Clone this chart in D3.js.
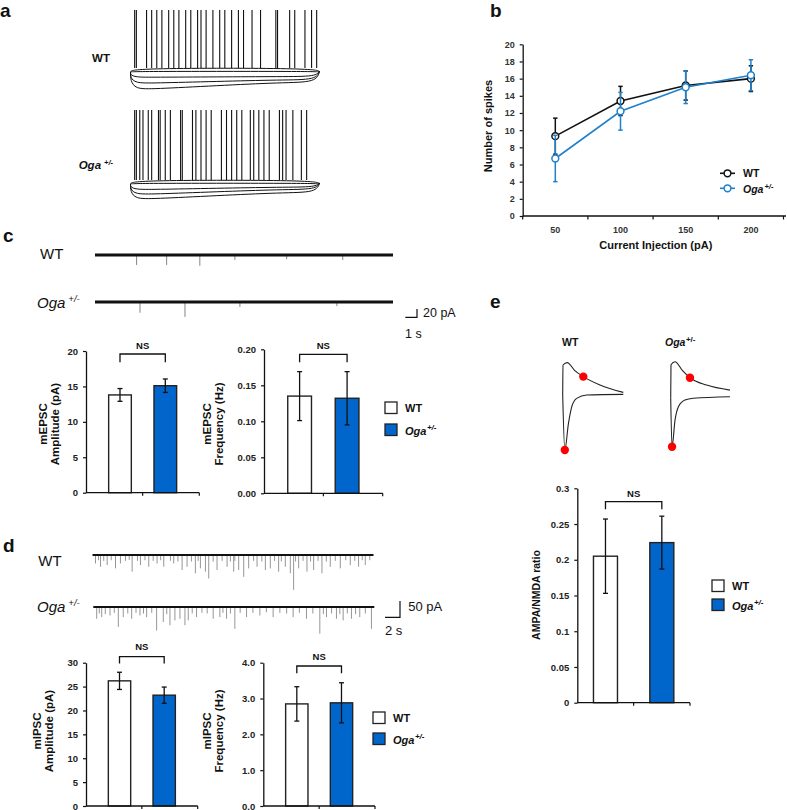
<!DOCTYPE html>
<html><head><meta charset="utf-8">
<script src="https://cdn.jsdelivr.net/npm/d3@7"></script>
<style>
body{margin:0;background:#fff}
svg{display:block}
text{font-family:"Liberation Sans",Arial,Helvetica,sans-serif}
</style>
</head><body>
<svg id="fig" width="787" height="810"></svg>
<script>
// ---------------- DATA ----------------
const groups = ["WT", "Oga"];

// panel a: current-clamp sweeps (mV)
const restMV = -65;
const depolMV_WT = -59, depolMV_Oga = -60;
const spikePeakMV = 30;
const hyperSagWT = [-73, -82, -91];
const hyperSteadyWT = [-72, -77, -81];
const hyperSagOga = [-72, -78, -84];
const hyperSteadyOga = [-69, -72, -76];
const spikeTimesWT = [22, 31, 85, 112, 139, 166, 202, 229, 256, 292, 319, 355, 373, 400, 436, 472, 499, 535, 571, 598, 643, 688, 769, 778, 842, 869, 923, 958, 985];
const spikeTimesOga = [22, 31, 49, 66, 94, 112, 148, 157, 184, 211, 265, 274, 328, 346, 373, 400, 427, 481, 508, 535, 562, 589, 634, 652, 679, 706, 734, 788, 805, 823, 859, 904, 932];

// panel b: spikes vs current injection
const currents = [50, 100, 150, 200];
const spikesWT = [9.3, 13.4, 15.2, 16.0];
const spikesWTErr = [2.1, 1.7, 1.7, 1.5];
const spikesOga = [6.7, 12.2, 15.0, 16.4];
const spikesOgaErr = [2.7, 2.2, 1.9, 1.8];
const spikesTicks = [0, 2, 4, 6, 8, 10, 12, 14, 16, 18, 20];

// panel c: mEPSC traces [time s, amplitude pA]
const mepscEventsWT = [[3.56, 24], [6.13, 24], [8.97, 26], [11.97, 12], [16.4, 10], [21.2, 12]];
const mepscEventsOga = [[3.85, 26], [7.7, 36], [12.4, 12], [20.7, 10]];
// panel c bars
const mepscAmp = [13.8, 15.1];
const mepscAmpErr = [0.9, 0.95];
const mepscAmpTicks = [0, 5, 10, 15, 20];
const mepscFreq = [0.135, 0.132];
const mepscFreqErr = [0.034, 0.037];
const mepscFreqTicks = [0, 0.05, 0.10, 0.15, 0.20];

// panel d: mIPSC traces [time s, amplitude pA]
const mipscEventsWT = [[0.4, 26], [0.8, 16], [1.07, 36], [1.5, 18], [1.96, 31], [2.5, 16], [3.07, 41], [3.73, 26], [4.4, 18], [4.9, 15], [5.29, 51], [6.0, 18], [6.4, 31], [7.0, 16], [7.51, 36], [8.1, 18], [8.62, 26], [9.1, 16], [9.51, 36], [10.4, 18], [10.84, 26], [11.4, 20], [11.96, 46], [12.62, 36], [13.2, 20], [13.73, 56], [14.1, 18], [14.4, 41], [15.07, 51], [15.51, 72], [16.1, 20], [16.62, 46], [17.3, 18], [17.96, 36], [18.4, 20], [18.84, 51], [19.0, 18], [19.51, 46], [20.18, 67], [20.84, 41], [21.5, 18], [21.96, 36], [22.6, 20], [23.07, 46], [23.73, 41], [24.3, 18], [24.84, 51], [25.2, 20], [25.73, 36], [26.4, 56], [26.84, 107], [27.1, 20], [27.51, 41], [28.1, 18], [28.62, 51], [29.1, 20], [29.51, 46], [30.1, 18], [30.62, 56], [31.2, 20], [31.73, 36], [32.4, 18], [33.07, 41], [33.8, 16], [34.4, 31], [35.0, 18], [35.51, 36], [36.0, 16], [36.4, 31], [37.0, 16]];
const mipscEventsOga = [[0.45, 36], [0.8, 20], [1.12, 31], [1.6, 22], [2.23, 26], [2.8, 18], [3.34, 61], [4.0, 31], [4.6, 20], [5.12, 36], [5.7, 18], [6.23, 26], [6.7, 20], [7.12, 31], [7.8, 18], [8.45, 72], [9.34, 46], [9.8, 22], [10.23, 56], [10.89, 41], [11.56, 36], [12.23, 56], [12.67, 41], [13.2, 20], [13.78, 31], [14.5, 18], [15.2, 20], [16.0, 36], [16.89, 31], [17.3, 18], [17.78, 36], [18.3, 20], [18.89, 67], [19.6, 18], [20.45, 31], [21.3, 18], [22.23, 26], [23.1, 16], [24.0, 31], [24.9, 18], [25.8, 20], [26.67, 31], [27.5, 18], [28.45, 36], [29.3, 20], [30.23, 82], [30.7, 22], [31.12, 31], [31.8, 20], [32.45, 36], [32.9, 22], [33.34, 41], [33.9, 20], [34.45, 36], [35.0, 22], [35.56, 31], [36.3, 20], [37.12, 67]];
// panel d bars
const mipscAmp = [26.2, 23.2];
const mipscAmpErr = [1.8, 1.7];
const mipscAmpTicks = [0, 5, 10, 15, 20, 25, 30];
const mipscFreq = [2.85, 2.88];
const mipscFreqErr = [0.48, 0.56];
const mipscFreqTicks = [0, 1, 2, 3, 4];

// panel e: example EPSC traces [time ms, current pA]
const nmdaTraceWT = [[0, 0], [1, 150], [15, 162], [40, 122], [68, 92], [123, 50], [200, 13]];
const ampaTraceWT = [[0, 0], [7, -275], [19, -142], [30, -58], [46, -17], [79, 0], [200, 3]];
const nmdaTraceOga = [[0, 0], [1, 165], [14.6, 180], [40, 135], [65, 100], [121, 63], [200, 38]];
const ampaTraceOga = [[0, 0], [4.5, -245], [14.6, -112], [26, -45], [48, -12], [76, -3], [200, 5]];
const nmdaMeasureT = [68, 65];
// panel e bars
const ampaNmda = [0.205, 0.224];
const ampaNmdaErr = [0.052, 0.037];
const ampaNmdaTicks = [0, 0.05, 0.1, 0.15, 0.2, 0.25, 0.3];

// ---------------- DRAW ----------------
const svg = d3.select("#fig");
const BLUE = "#0066cc";
const LBLUE = "#1f80cc";
const INK = "#111";

function txt(x, y, s, size, opt = {}) {
  return svg.append("text").attr("x", x).attr("y", y)
    .attr("font-size", size)
    .attr("font-weight", opt.weight || "normal")
    .attr("font-style", opt.style || "normal")
    .attr("text-anchor", opt.anchor || "start")
    .attr("fill", opt.fill || INK)
    .text(s);
}
function ogaText(parent, x, y, size, opt = {}) {
  const t = parent.append("text").attr("x", x).attr("y", y)
    .attr("font-size", size)
    .attr("font-weight", opt.weight || "normal")
    .attr("text-anchor", opt.anchor || "start")
    .attr("fill", INK);
  t.append("tspan").attr("font-style", "italic").text("Oga");
  t.append("tspan").attr("dx", opt.gap || 0).attr("dy", -size * 0.38)
    .attr("font-size", opt.sup || size * 0.7).attr("font-style", opt.supStyle || "italic").text("+/-");
  return t;
}

// panel letters
[["a", 0, 17], ["b", 490, 17], ["c", 3, 242], ["d", 3, 552], ["e", 490, 308]].forEach(([l, x, y]) =>
  txt(x, y, l, 19, { weight: "bold" }));

// ---------- panel a ----------
function drawSweeps(yRest, yPeak, depolMV, sags, steadies, spikes) {
  const x = d3.scaleLinear().domain([0, 1000]).range([130.5, 319.5]);
  const y = d3.scaleLinear().domain([restMV, spikePeakMV]).range([yRest, yPeak]);
  const line = d3.line().x(d => x(d[0])).y(d => y(d[1])).curve(d3.curveBasis);
  const g = svg.append("g").attr("fill", "none").attr("stroke", INK).attr("stroke-width", 1);
  // resting sweep
  g.append("path").attr("d", line([[0, restMV], [20, restMV + 1], [980, restMV + 1], [1000, restMV]]));
  // depolarised sweep baseline
  g.append("path").attr("d", line([[0, restMV], [15, depolMV], [985, depolMV], [1000, restMV]]));
  // hyperpolarising sweeps with sag
  sags.forEach((s, i) => {
    const st = steadies[i];
    g.append("path").attr("d", line([[0, restMV], [0, (restMV + s) / 2], [25, s], [120, s], [450, (s + st) / 2], [800, st], [985, st], [1000, restMV + 2], [1000, restMV]]));
  });
  // spikes
  g.selectAll(null).data(spikes).join("line")
    .attr("x1", d => x(d)).attr("x2", d => x(d))
    .attr("y1", y(depolMV)).attr("y2", y(spikePeakMV))
    .attr("stroke-width", 1.1);
}
drawSweeps(72, 10, depolMV_WT, hyperSagWT, hyperSteadyWT, spikeTimesWT);
drawSweeps(184, 110, depolMV_Oga, hyperSagOga, hyperSteadyOga, spikeTimesOga);
txt(110, 62, "WT", 11.5, { weight: "bold", anchor: "end" });
ogaText(svg, 113, 169, 11.5, { weight: "bold", anchor: "end", gap: 3, sup: 7.5 });

// ---------- panel b ----------
{
  const x = d3.scaleBand().domain(currents).range([522.7, 783.5]);
  const y = d3.scaleLinear().domain([0, 20]).range([216, 44.3]);
  const g = svg.append("g");
  const yAx = g.append("g").attr("transform", "translate(522.7,0)")
    .call(d3.axisLeft(y).tickValues(spikesTicks).tickSize(3).tickSizeOuter(0).tickPadding(5));
  yAx.select(".domain").attr("stroke", INK).attr("stroke-width", 1.3);
  yAx.selectAll(".tick line").attr("stroke", INK).attr("stroke-width", 1.2);
  yAx.selectAll(".tick text").attr("font-size", 9).attr("font-weight", "bold").attr("fill", "#333")
    .attr("font-family", '"Liberation Sans",Arial,sans-serif');
  g.append("line").attr("x1", 522.7).attr("x2", 786).attr("y1", 216).attr("y2", 216)
    .attr("stroke", INK).attr("stroke-width", 1.3);
  const bounds = currents.map(c => x(c)).concat([x(currents[currents.length - 1]) + x.bandwidth()]);
  g.selectAll(null).data(bounds).join("line")
    .attr("x1", d => d).attr("x2", d => d).attr("y1", 216).attr("y2", 219.5)
    .attr("stroke", INK).attr("stroke-width", 1.2);
  g.selectAll(null).data(currents).join("text")
    .attr("x", d => x(d) + x.bandwidth() / 2).attr("y", 233)
    .attr("text-anchor", "middle").attr("font-size", 9).attr("font-weight", "bold").attr("fill", "#333")
    .text(d => d);
  const cx = d => x(d) + x.bandwidth() / 2;
  function series(vals, errs, color) {
    const s = g.append("g");
    s.selectAll(null).data(currents).join("line")
      .attr("x1", cx).attr("x2", cx)
      .attr("y1", (d, i) => y(vals[i] - errs[i])).attr("y2", (d, i) => y(vals[i] + errs[i]))
      .attr("stroke", color).attr("stroke-width", 1.5);
    [1, -1].forEach(sg => s.selectAll(null).data(currents).join("line")
      .attr("x1", d => cx(d) - 2.2).attr("x2", d => cx(d) + 2.2)
      .attr("y1", (d, i) => y(vals[i] + sg * errs[i])).attr("y2", (d, i) => y(vals[i] + sg * errs[i]))
      .attr("stroke", color).attr("stroke-width", 1.5));
    s.append("path").attr("d", d3.line().x((d, i) => cx(currents[i])).y(d => y(d))(vals))
      .attr("fill", "none").attr("stroke", color).attr("stroke-width", 1.6);
    s.selectAll(null).data(vals).join("circle")
      .attr("cx", (d, i) => cx(currents[i])).attr("cy", d => y(d)).attr("r", 3.4)
      .attr("fill", "#fff").attr("stroke", color).attr("stroke-width", 1.5);
  }
  series(spikesWT, spikesWTErr, INK);
  series(spikesOga, spikesOgaErr, LBLUE);
  g.append("text").attr("transform", "translate(491.5,126) rotate(-90)")
    .attr("text-anchor", "middle").attr("font-size", 11).attr("font-weight", "bold").attr("fill", INK)
    .text("Number of spikes");
  txt(655.8, 249, "Current Injection (pA)", 11, { weight: "bold", anchor: "middle" });
  // legend
  [[INK, 173.3], [LBLUE, 188.3]].forEach(([c, yy], i) => {
    g.append("line").attr("x1", 720).attr("x2", 735).attr("y1", yy).attr("y2", yy).attr("stroke", c).attr("stroke-width", 1.6);
    g.append("circle").attr("cx", 727.5).attr("cy", yy).attr("r", 3.4).attr("fill", "#fff").attr("stroke", c).attr("stroke-width", 1.5);
  });
  txt(743, 177.3, "WT", 10.5, { weight: "bold" });
  ogaText(g, 743, 192.5, 10.5, { weight: "bold", gap: 1, sup: 7.5 });
}

// ---------- panels c & d traces ----------
function drawRecording(x0, x1, tMax, yBase, events, pxPerPA, baseWidth, evColor) {
  const x = d3.scaleLinear().domain([0, tMax]).range([x0, x1]);
  const a = d3.scaleLinear().domain([0, 1]).range([0, pxPerPA]);
  const g = svg.append("g");
  g.selectAll(null).data(events).join("line")
    .attr("x1", d => x(d[0])).attr("x2", d => x(d[0]))
    .attr("y1", yBase).attr("y2", d => yBase + a(d[1]))
    .attr("stroke", evColor).attr("stroke-width", 0.9);
  g.append("line").attr("x1", x0).attr("x2", x1).attr("y1", yBase).attr("y2", yBase)
    .attr("stroke", INK).attr("stroke-width", baseWidth);
  return { x, a };
}
// c
const cWT = drawRecording(95, 393, 25.5, 255, mepscEventsWT, 0.415, 3, "#777");
drawRecording(95, 393, 25.5, 302, mepscEventsOga, 0.415, 3, "#777");
txt(40, 258.5, "WT", 15);
ogaText(svg, 37, 307.5, 15, { gap: 3, sup: 9.5 });
{
  const w = cWT.x(1) - cWT.x(0), h = cWT.a(20);
  svg.append("path").attr("d", `M${417 - w},317.3H417V${317.3 - h}`).attr("fill", "none").attr("stroke", INK).attr("stroke-width", 1.2);
  txt(423, 317, "20 pA", 12.5);
  txt(405, 337.5, "1 s", 12.5);
}
// d
const dWT = drawRecording(92.5, 373.5, 37.5, 555, mipscEventsWT, 0.326, 2, "#8a8a8a");
drawRecording(93.3, 374.3, 37.5, 607, mipscEventsOga, 0.326, 2, "#8a8a8a");
txt(38.3, 565.5, "WT", 15);
ogaText(svg, 37, 612, 15, { gap: 3, sup: 9.5 });
{
  const w = dWT.x(2) - dWT.x(0), h = dWT.a(50);
  svg.append("path").attr("d", `M${400 - w},617.3H400V${617.3 - h}`).attr("fill", "none").attr("stroke", INK).attr("stroke-width", 1.2);
  txt(408.3, 610.5, "50 pA", 13);
  txt(385, 635, "2 s", 13);
}

// ---------- panel e traces ----------
function drawEPSC(x0, x1, yBase, nmda, ampa, tMeasure) {
  const x = d3.scaleLinear().domain([0, 200]).range([x0, x1]);
  const y = d3.scaleLinear().domain([0, 100]).range([yBase, yBase - 20]);
  const line = d3.line().x(d => x(d[0])).y(d => y(d[1])).curve(d3.curveMonotoneX);
  const g = svg.append("g");
  [nmda, ampa].forEach(tr => g.append("path").attr("d", line(tr)).attr("fill", "none").attr("stroke", "#222").attr("stroke-width", 1.1));
  // red dots: AMPA peak and NMDA at later time
  const interp = (tr, t) => { for (let i = 1; i < tr.length; i++) if (tr[i][0] >= t) { const [t0, v0] = tr[i - 1], [t1, v1] = tr[i]; return v0 + (v1 - v0) * (t - t0) / (t1 - t0); } return tr[tr.length - 1][1]; };
  const trough = ampa.reduce((m, d) => d[1] < m[1] ? d : m);
  g.append("circle").attr("cx", x(tMeasure)).attr("cy", y(interp(nmda, tMeasure))).attr("r", 4.2).attr("fill", "#f00");
  g.append("circle").attr("cx", x(trough[0])).attr("cy", y(trough[1])).attr("r", 4.2).attr("fill", "#f00");
}
drawEPSC(562.7, 623.3, 395, nmdaTraceWT, ampaTraceWT, nmdaMeasureT[0]);
drawEPSC(670.7, 730, 397.7, nmdaTraceOga, ampaTraceOga, nmdaMeasureT[1]);
txt(562, 346, "WT", 10.5, { weight: "bold" });
ogaText(svg, 665, 346, 10.5, { weight: "bold", gap: 0.5, sup: 8, supStyle: "normal" });

// ---------- bar charts ----------
const barCharts = [
  { values: mepscAmp, errs: mepscAmpErr, ticks: mepscAmpTicks, fmt: d => d, max: 20,
    x0: 86, x1: 199.3, yTop: 351, yBot: 492.7, pi: 0.5, po: 0.5, brY: 354, brTip: 8.3, nsY: 345,
    lab: ["mEPSC", "Amplitude (pA)"], labX: [47, 59], labY: 424, leg: null },
  { values: mepscFreq, errs: mepscFreqErr, ticks: mepscFreqTicks, fmt: d3.format(".2f"), max: 0.2,
    x0: 264, x1: 382.7, yTop: 349.3, yBot: 493.3, pi: 0.5, po: 0.5, brY: 354.3, brTip: 8, nsY: 345,
    lab: ["mEPSC", "Frequency (Hz)"], labX: [210.5, 223], labY: 424, leg: [385, 402, 424] },
  { values: mipscAmp, errs: mipscAmpErr, ticks: mipscAmpTicks, fmt: d => d, max: 30,
    x0: 86, x1: 197.7, yTop: 662.7, yBot: 806, pi: 0.5, po: 0.5, brY: 656.7, brTip: 6.7, nsY: 646.7,
    lab: ["mIPSC", "Amplitude (pA)"], labX: [40.5, 53], labY: 731, leg: null },
  { values: mipscFreq, errs: mipscFreqErr, ticks: mipscFreqTicks, fmt: d3.format(".1f"), max: 4,
    x0: 263.3, x1: 375, yTop: 662.7, yBot: 806, pi: 0.5, po: 0.5, brY: 666, brTip: 7.3, nsY: 656.7,
    lab: ["mIPSC", "Frequency (Hz)"], labX: [210.5, 223], labY: 731, leg: [373, 712, 733] },
  { values: ampaNmda, errs: ampaNmdaErr, ticks: ampaNmdaTicks, fmt: d => String(d), max: 0.3,
    x0: 577.3, x1: 690, yTop: 488.3, yBot: 702.7, pi: 0.574, po: 0.287, brY: 501.7, brTip: 7.6, nsY: 493.3,
    lab: ["AMPA/NMDA ratio"], labX: [540], labY: 595, leg: [712, 580, 599] }
];

barCharts.forEach(c => {
  const x = d3.scaleBand().domain(groups).range([c.x0, c.x1]).paddingInner(c.pi).paddingOuter(c.po);
  const y = d3.scaleLinear().domain([0, c.max]).range([c.yBot, c.yTop]);
  const g = svg.append("g");
  const cx = d => x(d) + x.bandwidth() / 2;
  // bars
  g.selectAll(null).data(groups).join("rect")
    .attr("x", d => x(d)).attr("width", x.bandwidth())
    .attr("y", (d, i) => y(c.values[i])).attr("height", (d, i) => c.yBot - y(c.values[i]))
    .attr("fill", (d, i) => i === 0 ? "#fff" : BLUE).attr("stroke", "#222").attr("stroke-width", 1.4);
  // error bars
  g.selectAll(null).data(groups).join("line")
    .attr("x1", cx).attr("x2", cx)
    .attr("y1", (d, i) => y(c.values[i] - c.errs[i])).attr("y2", (d, i) => y(c.values[i] + c.errs[i]))
    .attr("stroke", INK).attr("stroke-width", 1.3);
  [1, -1].forEach(sg => g.selectAll(null).data(groups).join("line")
    .attr("x1", d => cx(d) - 2.5).attr("x2", d => cx(d) + 2.5)
    .attr("y1", (d, i) => y(c.values[i] + sg * c.errs[i])).attr("y2", (d, i) => y(c.values[i] + sg * c.errs[i]))
    .attr("stroke", INK).attr("stroke-width", 1.3));
  // y axis
  const ax = g.append("g").attr("transform", `translate(${c.x0},0)`)
    .call(d3.axisLeft(y).tickValues(c.ticks).tickFormat(c.fmt).tickSize(3).tickSizeOuter(0).tickPadding(5));
  ax.select(".domain").attr("stroke", INK).attr("stroke-width", 1.3);
  ax.selectAll(".tick line").attr("stroke", INK).attr("stroke-width", 1.2);
  ax.selectAll(".tick text").attr("font-size", 9.5).attr("font-weight", "bold").attr("fill", "#222")
    .attr("font-family", '"Liberation Sans",Arial,sans-serif');
  // x axis
  g.append("line").attr("x1", c.x0).attr("x2", c.x1).attr("y1", c.yBot).attr("y2", c.yBot)
    .attr("stroke", INK).attr("stroke-width", 1.3);
  g.selectAll(null).data([(c.x0 + c.x1) / 2, c.x1]).join("line")
    .attr("x1", d => d).attr("x2", d => d).attr("y1", c.yBot).attr("y2", c.yBot + 3)
    .attr("stroke", INK).attr("stroke-width", 1.2);
  // NS bracket
  g.append("path").attr("d", `M${cx(groups[0])},${c.brY + c.brTip}V${c.brY}H${cx(groups[1])}V${c.brY + c.brTip}`)
    .attr("fill", "none").attr("stroke", INK).attr("stroke-width", 1.3);
  g.append("text").attr("x", (cx(groups[0]) + cx(groups[1])) / 2).attr("y", c.nsY + 3.5)
    .attr("text-anchor", "middle").attr("font-size", 9.5).attr("font-weight", "bold").attr("fill", INK).text("NS");
  // y label
  c.lab.forEach((l, i) => g.append("text")
    .attr("transform", `translate(${c.labX[i]},${c.labY}) rotate(-90)`)
    .attr("text-anchor", "middle").attr("font-size", c.lab.length > 1 ? 11.5 : 10.5).attr("font-weight", "bold").attr("fill", INK)
    .text(l));
  // legend
  if (c.leg) {
    const [lx, ly1, ly2] = c.leg;
    g.append("rect").attr("x", lx).attr("y", ly1).attr("width", 12).attr("height", 11.5)
      .attr("fill", "#fff").attr("stroke", "#222").attr("stroke-width", 1.3);
    g.append("rect").attr("x", lx).attr("y", ly2).attr("width", 12).attr("height", 11.5)
      .attr("fill", BLUE).attr("stroke", "#222").attr("stroke-width", 1.3);
    g.append("text").attr("x", lx + 20).attr("y", ly1 + 10).attr("font-size", 11).attr("font-weight", "bold").attr("fill", INK).text("WT");
    ogaText(g, lx + 20, ly2 + 10.5, 11, { weight: "bold", gap: 0.5, sup: 8 });
  }
});
</script>
</body></html>
